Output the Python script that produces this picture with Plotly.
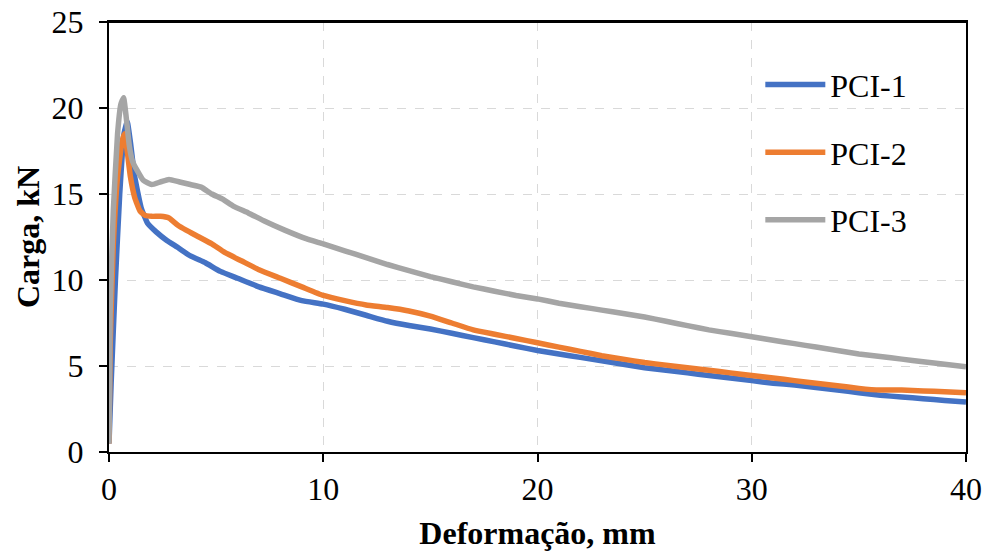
import plotly.graph_objects as go

# PCI-1
x1 = [0, 0.1, 0.3, 0.5, 0.7, 0.85, 1.0, 1.2, 1.5, 1.8, 2.2, 2.7, 3.2, 3.8, 4.5, 5.2, 6.0, 7.0, 8.0, 9.0,
      10.0, 11.0, 12.0, 13.0, 14.0, 15.0, 16.0, 17.0, 18.0, 19.0, 20.0, 21.0, 22.0, 23.0, 24.0, 25.0,
      26.0, 27.0, 28.0, 29.0, 30.0, 31.0, 32.0, 33.0, 34.0, 35.0, 36.0, 37.0, 38.0, 39.0, 40.0]
y1 = [0.5, 4, 10, 15, 18.5, 19.2, 18, 16, 14.2, 13.3, 12.8, 12.3, 11.9, 11.4, 11.0, 10.5, 10.1, 9.6, 9.2, 8.8,
      8.6, 8.3, 7.95, 7.6, 7.35, 7.15, 6.9, 6.65, 6.4, 6.15, 5.9, 5.7, 5.5, 5.3, 5.1, 4.9,
      4.75, 4.6, 4.45, 4.3, 4.15, 4.0, 3.9, 3.75, 3.6, 3.45, 3.3, 3.2, 3.1, 3.0, 2.9]

# PCI-2
x2 = [0, 0.05, 0.2, 0.4, 0.6, 0.72, 0.85, 1.0, 1.2, 1.45, 1.7, 2.0, 2.4, 2.8, 3.2, 3.6, 4.2, 4.8, 5.4, 6.2,
      7.0, 8.0, 9.0, 10.0, 11.0, 12.0, 13.0, 14.0, 15.0, 16.0, 17.0, 18.0, 19.0, 20.0, 21.0, 22.0, 23.0,
      24.0, 25.0, 26.0, 27.0, 28.0, 29.0, 30.0, 31.0, 32.0, 33.0, 34.0, 35.0, 36.0, 37.0, 38.0, 39.0, 40.0]
y2 = [0.5, 6, 12, 16, 18.0, 18.5, 17.5, 16, 14.8, 14.0, 13.75, 13.7, 13.7, 13.6, 13.2, 12.9, 12.5, 12.1, 11.6, 11.1,
      10.6, 10.1, 9.6, 9.1, 8.8, 8.55, 8.4, 8.2, 7.9, 7.5, 7.1, 6.85, 6.6, 6.35, 6.1, 5.85, 5.6,
      5.4, 5.2, 5.05, 4.9, 4.75, 4.6, 4.45, 4.3, 4.15, 4.0, 3.85, 3.7, 3.6, 3.6, 3.55, 3.5, 3.45]

# PCI-3
x3 = [0, 0.05, 0.2, 0.4, 0.55, 0.68, 0.8, 0.95, 1.1, 1.3, 1.6, 2.0, 2.4, 2.8, 3.3, 3.8, 4.3, 4.8, 5.3, 5.8,
      6.5, 7.3, 8.2, 9.2, 10.0, 11.0, 12.0, 13.0, 14.0, 15.0, 16.0, 17.0, 18.0, 19.0, 20.0, 21.0, 22.0,
      23.0, 24.0, 25.0, 26.0, 27.0, 28.0, 29.0, 30.0, 31.0, 32.0, 33.0, 34.0, 35.0, 36.0, 37.0, 38.0, 39.0, 40.0]
y3 = [0.5, 8, 14, 18.5, 20.2, 20.6, 19.5, 17.8, 16.9, 16.4, 15.8, 15.55, 15.7, 15.85, 15.7, 15.55, 15.4, 15.0, 14.7, 14.3,
      13.9, 13.4, 12.9, 12.4, 12.1, 11.7, 11.3, 10.9, 10.55, 10.2, 9.9, 9.6, 9.35, 9.1, 8.9, 8.65, 8.45,
      8.25, 8.05, 7.85, 7.6, 7.35, 7.1, 6.9, 6.7, 6.5, 6.3, 6.1, 5.9, 5.7, 5.55, 5.4, 5.25, 5.1, 4.95]

series = [("PCI-1", x1, y1, "#4472C4"), ("PCI-2", x2, y2, "#ED7D31"), ("PCI-3", x3, y3, "#A5A5A5")]

FONT = "Liberation Serif"
FS = 32

fig = go.Figure()
for i, (name, xs, ys, col) in enumerate(series):
    fig.add_trace(go.Scatter(x=xs, y=ys, mode="lines", name=name, legendgroup=f"g{i}",
                             line=dict(color=col, width=5.5, shape="spline", smoothing=0.4)))

axis_common = dict(showline=True, linecolor="black", linewidth=2, mirror=True,
                   ticks="outside", ticklen=8, tickwidth=2, tickcolor="black",
                   showgrid=True, gridcolor="#d9d9d9", griddash="dash", gridwidth=1,
                   zeroline=False, automargin=False, ticklabeloverflow="allow",
                   tickfont=dict(family=FONT, size=FS, color="black"))

fig.update_xaxes(range=[0, 40], dtick=10, tick0=0,
                 title=dict(text="<b>Deformação, mm</b>", font=dict(family=FONT, size=FS, color="black"), standoff=17),
                 **axis_common)
fig.update_yaxes(range=[0, 25], dtick=5, tick0=0, ticksuffix="\u2009\u200a",
                 title=dict(text="<b>Carga, kN</b>", font=dict(family=FONT, size=FS, color="black"), standoff=2),
                 **axis_common)

# top frame line of the plot area
fig.add_shape(type="line", xref="paper", yref="paper", x0=0, x1=1, y0=1, y1=1,
              line=dict(color="black", width=2), layer="above")

fig.update_layout(width=985, height=551, margin=dict(l=109, r=19, t=22, b=99),
                  plot_bgcolor="white", paper_bgcolor="white",
                  font=dict(family=FONT, size=FS, color="black"),
                  legend=dict(x=0.76, y=0.918, xanchor="left", yanchor="top", bgcolor="rgba(0,0,0,0)",
                              tracegroupgap=23, itemwidth=60,
                              font=dict(family=FONT, size=FS, color="black")))

fig.write_html("out.html", config={"displayModeBar": False},
               post_script="document.body.style.margin='0';document.body.style.overflow='hidden';")
